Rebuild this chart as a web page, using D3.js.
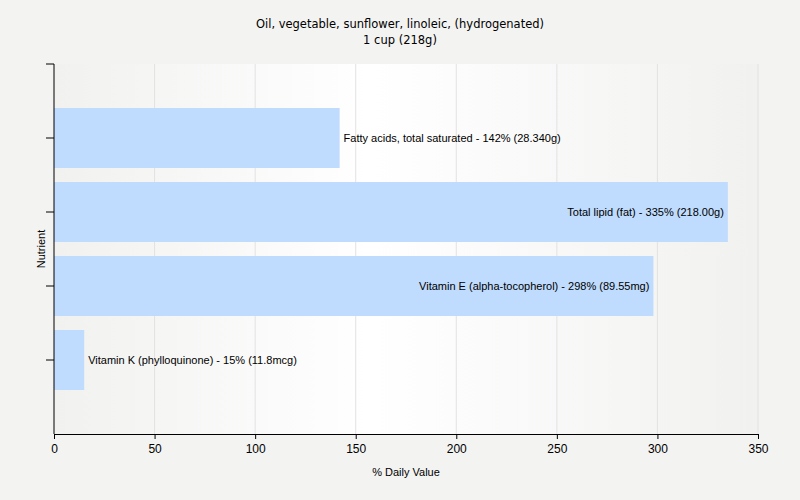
<!DOCTYPE html>
<html>
<head>
<meta charset="utf-8">
<script src="https://cdn.jsdelivr.net/npm/d3@7"></script>
<style>
  body { margin: 0; background: #f3f3f2; }
  text { font-family: "Liberation Sans", Arial, sans-serif; fill: #000; }
  .title { font-family: "DejaVu Sans", Verdana, sans-serif; }
</style>
</head>
<body>
<svg id="chart" width="800" height="500"></svg>
<script>
// data
const nutrients = ['Fatty acids, total saturated', 'Total lipid (fat)', 'Vitamin E (alpha-tocopherol)', 'Vitamin K (phylloquinone)']
const dailyValues = [142, 335, 298, 15]
const amounts = ['28.340g', '218.00g', '89.55mg', '11.8mcg']
const xTicks = [0, 50, 100, 150, 200, 250, 300, 350]

const titleLines = ['Oil, vegetable, sunflower, linoleic, (hydrogenated)', '1 cup (218g)']

const svg = d3.select('#chart')
const margin = {top: 64, right: 42, bottom: 66, left: 54}
const width = 800 - margin.left - margin.right
const height = 500 - margin.top - margin.bottom
const barH = 60
const xMax = 350

const x = d3.scaleLinear().domain([0, xMax]).range([0, width])
const y = d3.scalePoint().domain(nutrients).range([0, height]).padding(1)

// background gradient of the plot area
const grad = svg.append('defs').append('linearGradient')
    .attr('id', 'bg-grad')
    .attr('x1', '0%').attr('x2', '100%').attr('y1', '0%').attr('y2', '0%')
grad.append('stop').attr('offset', '0%').attr('stop-color', '#f1f1f0')
grad.append('stop').attr('offset', '45%').attr('stop-color', '#ffffff')
grad.append('stop').attr('offset', '100%').attr('stop-color', '#f1f1f0')

const g = svg.append('g').attr('transform', `translate(${margin.left},${margin.top})`)

g.append('rect')
    .attr('width', width)
    .attr('height', height)
    .attr('fill', 'url(#bg-grad)')

// vertical gridlines
g.selectAll('.grid')
    .data(xTicks.slice(1))
    .enter()
    .append('line')
    .attr('class', 'grid')
    .attr('x1', d=>x(d)).attr('x2', d=>x(d))
    .attr('y1', 0).attr('y2', height)
    .attr('stroke', '#e2e2e2')
    .attr('stroke-width', 1)

// bars
g.selectAll('.bar')
    .data(nutrients)
    .enter()
    .append('rect')
    .attr('class', 'bar')
    .attr('x', 0)
    .attr('y', d=>y(d) - barH/2)
    .attr('width', (d, i)=>x(dailyValues[i]))
    .attr('height', barH)
    .attr('fill', '#bfdbfd')

// labels: inside the bar end for long bars, otherwise after it
g.selectAll('.bar-label')
    .data(nutrients)
    .enter()
    .append('text')
    .attr('class', 'bar-label')
    .style('font-size', '11px')
    .attr('dy', '0.35em')
    .attr('y', d=>y(d))
    .text((d, i)=>d + ' - ' + dailyValues[i] + '% (' + amounts[i] + ')')
    .each(function(d, i){
        const end = x(dailyValues[i])
        if (dailyValues[i] > xMax/2){
            d3.select(this).attr('x', end - 4).attr('text-anchor', 'end')
        } else{
            d3.select(this).attr('x', end + 4).attr('text-anchor', 'start')
        }
    })

// axes
const xAxis = g.append('g')
    .attr('transform', `translate(0,${height})`)
    .call(d3.axisBottom(x).tickValues(xTicks).tickSize(5).tickSizeOuter(0))
xAxis.selectAll('text').style('font-size', '12px').attr('dy', '0.9em')

const yTicks = [0].concat(nutrients.map(d=>y(d)))
const yAxis = g.append('g')
yAxis.append('line')
    .attr('x1', 0).attr('x2', 0)
    .attr('y1', 0).attr('y2', height)
    .attr('stroke', '#000')
yAxis.selectAll('.ytick')
    .data(yTicks)
    .enter()
    .append('line')
    .attr('class', 'ytick')
    .attr('x1', -8).attr('x2', 0)
    .attr('y1', d=>d).attr('y2', d=>d)
    .attr('stroke', '#000')

g.selectAll('.domain, .tick line').attr('stroke', '#000')

// titles
svg.selectAll('.title')
    .data(titleLines)
    .enter()
    .append('text')
    .attr('class', 'title')
    .attr('x', 400)
    .attr('y', (d, i)=>28 + i*16)
    .attr('text-anchor', 'middle')
    .style('font-size', '11.5px')
    .text(d=>d)

svg.append('text')
    .attr('x', margin.left + width/2)
    .attr('y', 476)
    .attr('text-anchor', 'middle')
    .style('font-size', '11px')
    .text('% Daily Value')

svg.append('text')
    .attr('transform', 'translate(45,249) rotate(-90)')
    .attr('text-anchor', 'middle')
    .style('font-size', '11px')
    .text('Nutrient')
</script>
</body>
</html>
